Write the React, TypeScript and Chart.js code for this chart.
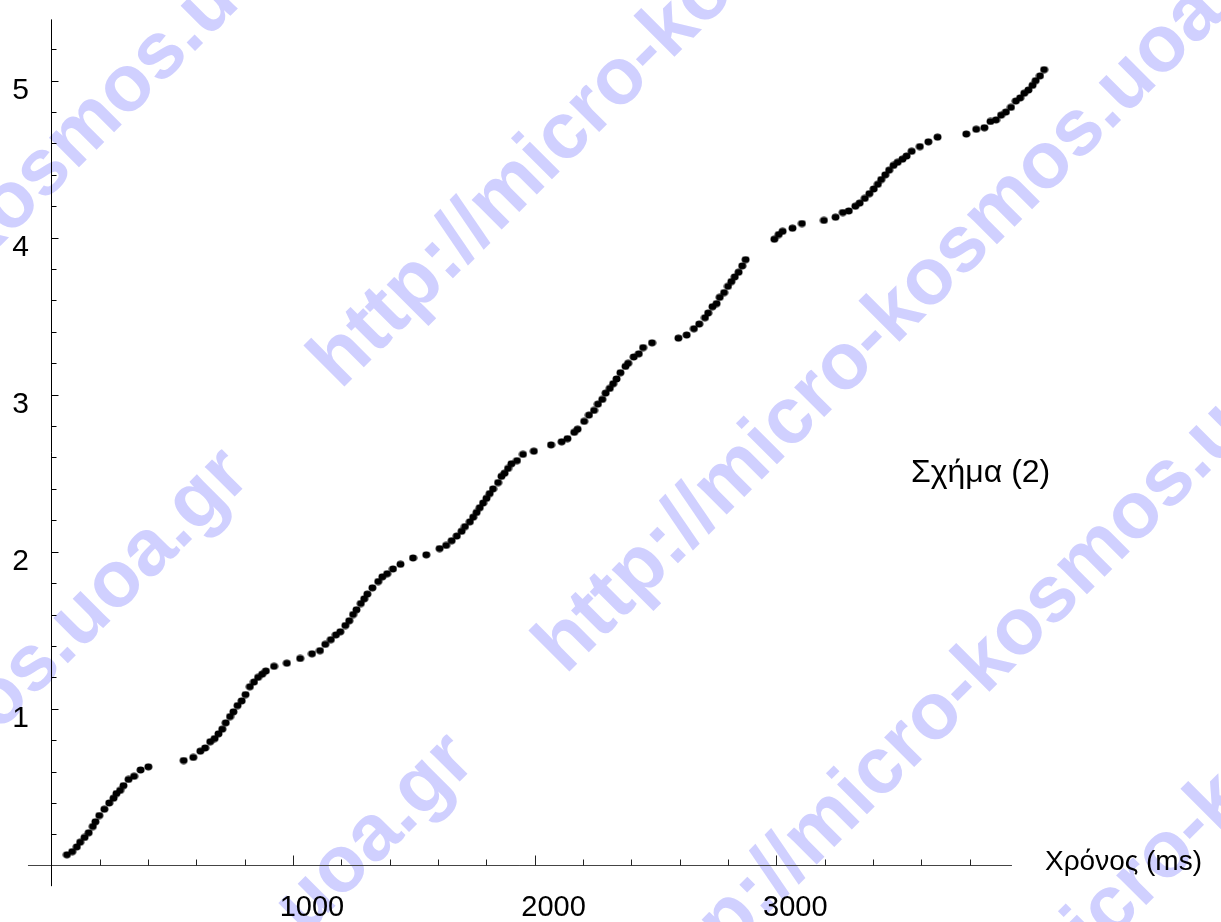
import { useEffect, useRef } from "react";
import { Chart, registerables } from "chart.js";

Chart.register(...registerables);

// ---- data ----
const timeMs = [
  65, 87, 106, 120, 138, 155, 172, 183, 199, 220, 240, 258, 270, 285, 299, 320, 343, 370, 402,
  548, 588, 617, 637, 658, 676, 692, 708, 722, 740, 754, 771, 788, 804, 822, 839, 856, 873, 888,
  922, 975, 1030, 1079, 1112, 1134, 1157, 1178, 1196, 1217, 1233, 1249, 1263, 1281, 1295, 1308,
  1329, 1353, 1370, 1390, 1414, 1445, 1497, 1552, 1607, 1634, 1657, 1678, 1698, 1712, 1732, 1746,
  1760, 1773, 1787, 1801, 1814, 1828, 1849, 1863, 1876, 1890, 1904, 1927, 1952, 1997, 2068, 2112,
  2136, 2164, 2178, 2205, 2225, 2246, 2262, 2280, 2294, 2311, 2325, 2339, 2355, 2376, 2387, 2410,
  2431, 2449, 2486, 2595, 2629, 2659, 2681, 2705, 2718, 2736, 2753, 2766, 2784, 2800, 2814, 2828,
  2844, 2859, 2873, 2992, 3010, 3026, 3067, 3106, 3197, 3245, 3275, 3300, 3327, 3345, 3366, 3385,
  3403, 3420, 3434, 3451, 3467, 3485, 3502, 3522, 3539, 3560, 3594, 3629, 3667, 3786, 3827, 3861,
  3886, 3909, 3930, 3950, 3971, 3991, 4009, 4026, 4043, 4060, 4073, 4091, 4108,
];
const values = [
  0.07, 0.09, 0.12, 0.15, 0.18, 0.21, 0.25, 0.28, 0.32, 0.36, 0.4, 0.43, 0.46, 0.48, 0.51, 0.55, 0.57, 0.61, 0.63,
  0.67, 0.69, 0.73, 0.75, 0.79, 0.81, 0.84, 0.87, 0.91, 0.95, 0.98, 1.02, 1.05, 1.09, 1.14, 1.17, 1.2, 1.22, 1.24,
  1.27, 1.29, 1.32, 1.35, 1.37, 1.41, 1.44, 1.47, 1.49, 1.53, 1.56, 1.6, 1.63, 1.67, 1.7, 1.73,
  1.77, 1.81, 1.84, 1.86, 1.89, 1.92, 1.96, 1.98, 2.02, 2.04, 2.07, 2.1, 2.13, 2.16, 2.19, 2.22,
  2.25, 2.28, 2.31, 2.34, 2.37, 2.4, 2.44, 2.48, 2.5, 2.53, 2.56, 2.58, 2.62, 2.64, 2.68, 2.7,
  2.72, 2.76, 2.78, 2.83, 2.87, 2.9, 2.94, 2.97, 3.01, 3.04, 3.07, 3.1, 3.14, 3.18, 3.2, 3.24,
  3.26, 3.3, 3.33, 3.36, 3.38, 3.42, 3.45, 3.49, 3.52, 3.56, 3.58, 3.62, 3.65, 3.69, 3.72, 3.75,
  3.78, 3.82, 3.86, 3.99, 4.02, 4.04, 4.06, 4.09, 4.11, 4.13, 4.16, 4.17, 4.2, 4.22, 4.25, 4.28,
  4.31, 4.34, 4.37, 4.4, 4.43, 4.46, 4.48, 4.5, 4.52, 4.55, 4.58, 4.61, 4.64, 4.66, 4.69, 4.7,
  4.74, 4.75, 4.78, 4.8, 4.83, 4.87, 4.89, 4.92, 4.94, 4.97, 5.0, 5.03, 5.07,
];

const xMinorTicks = [200, 400, 600, 800, 1200, 1400, 1600, 1800, 2200, 2400, 2600, 2800, 3200, 3400, 3600, 3800];
const xMajorTicks = [1000, 2000, 3000];
const xTickLabels = ["1000", "2000", "3000"];
const yMinorTicks = [0.2, 0.4, 0.6, 0.8, 1.2, 1.4, 1.6, 1.8, 2.2, 2.4, 2.6, 2.8, 3.2, 3.4, 3.6, 3.8, 4.2, 4.4, 4.6, 4.8, 5.2];
const yMajorTicks = [1, 2, 3, 4, 5];
const yTickLabels = ["1", "2", "3", "4", "5"];
const xAxisTitle = "Χρόνος (ms)";
const figureNote = "Σχήμα (2)";
const noteAt = { x: 3557, y: 2.5 };
const watermarkText = "http://micro-kosmos.uoa.gr";

// axis extents (data units)
const X_MIN = -195.2;
const X_MAX = 4823.3;
const Y_MIN = -0.3327;
const Y_MAX = 5.488;
const X_AXIS_FROM = -96;
const X_AXIS_TO = 3975;
const Y_AXIS_FROM = -0.13;
const Y_AXIS_TO = 5.39;

const FONT = '"Liberation Sans", Arial, Helvetica, sans-serif';

function makeDot(): HTMLCanvasElement {
  const c = document.createElement("canvas");
  c.width = 9;
  c.height = 8;
  const g = c.getContext("2d")!;
  g.fillStyle = "#000";
  g.beginPath();
  g.ellipse(4.5, 4, 4.0, 3.4, 0, 0, Math.PI * 2);
  g.fill();
  return c;
}

const watermarkPlugin = {
  id: "watermark",
  beforeDatasetsDraw(chart: any) {
    const ctx = chart.ctx as CanvasRenderingContext2D;
    const starts = [
      [-368, 583],
      [325, 375],
      [550, 660],
      [640, 1010],
      [872, 1148],
    ];
    const period = 1160;
    ctx.save();
    ctx.fillStyle = "rgb(208,208,255)";
    ctx.font = `bold 80px ${FONT}`;
    ctx.textBaseline = "middle";
    ctx.textAlign = "left";
    const d = Math.SQRT1_2;
    for (const [sx, sy] of starts) {
      for (let k = -2; k <= 2; k++) {
        const px = sx + k * period * d;
        const py = sy - k * period * d;
        ctx.save();
        ctx.translate(px, py);
        ctx.rotate(-Math.PI / 4);
        ctx.fillText(watermarkText, 0, 0);
        ctx.restore();
      }
    }
    ctx.restore();
  },
};

const axesPlugin = {
  id: "mathAxes",
  beforeDatasetsDraw(chart: any) {
    const ctx = chart.ctx as CanvasRenderingContext2D;
    const xs = chart.scales.x;
    const ys = chart.scales.y;
    const y0 = Math.round(ys.getPixelForValue(0)) - 0.5;
    const x0 = Math.round(xs.getPixelForValue(0)) + 0.5;
    ctx.save();
    ctx.lineWidth = 1;
    // x axis
    ctx.strokeStyle = "#444";
    ctx.beginPath();
    ctx.moveTo(xs.getPixelForValue(X_AXIS_FROM), y0);
    ctx.lineTo(xs.getPixelForValue(X_AXIS_TO), y0);
    ctx.stroke();
    ctx.strokeStyle = "#222";
    ctx.beginPath();
    for (const v of xMinorTicks) {
      const p = Math.round(xs.getPixelForValue(v)) + 0.5;
      ctx.moveTo(p, y0);
      ctx.lineTo(p, y0 - 6);
    }
    for (const v of xMajorTicks) {
      const p = Math.round(xs.getPixelForValue(v)) + 0.5;
      ctx.moveTo(p, y0);
      ctx.lineTo(p, y0 - 10);
    }
    ctx.stroke();
    // y axis
    ctx.strokeStyle = "#000";
    ctx.beginPath();
    ctx.moveTo(x0, ys.getPixelForValue(Y_AXIS_FROM));
    ctx.lineTo(x0, ys.getPixelForValue(Y_AXIS_TO));
    for (const v of yMinorTicks) {
      const p = Math.round(ys.getPixelForValue(v)) + 0.5;
      ctx.moveTo(x0, p);
      ctx.lineTo(x0 + 5, p);
    }
    for (const v of yMajorTicks) {
      const p = Math.round(ys.getPixelForValue(v)) + 0.5;
      ctx.moveTo(x0, p);
      ctx.lineTo(x0 + 7, p);
    }
    ctx.stroke();

    // labels
    ctx.fillStyle = "#000";
    ctx.font = `29px ${FONT}`;
    ctx.textAlign = "center";
    ctx.textBaseline = "middle";
    xMajorTicks.forEach((v, i) => {
      ctx.fillText(xTickLabels[i], xs.getPixelForValue(v) + 19, y0 + 42);
    });
    ctx.font = `30px ${FONT}`;
    yMajorTicks.forEach((v, i) => {
      ctx.fillText(yTickLabels[i], x0 - 31, ys.getPixelForValue(v) + 10);
    });
    ctx.font = `28px ${FONT}`;
    ctx.textAlign = "left";
    ctx.fillText(xAxisTitle, 1045, y0 - 3);
    ctx.font = `32px ${FONT}`;
    ctx.fillText(figureNote, xs.getPixelForValue(noteAt.x), ys.getPixelForValue(noteAt.y));
    ctx.restore();
  },
};

export default function App() {
  const ref = useRef<HTMLCanvasElement | null>(null);
  useEffect(() => {
    if (!ref.current) return;
    const dot = makeDot();
    const chart = new Chart(ref.current, {
      type: "scatter",
      data: {
        datasets: [
          {
            data: timeMs.map((t, i) => ({ x: t, y: values[i] })),
            pointStyle: dot as any,
            pointRadius: 4,
            pointBackgroundColor: "#000",
            pointBorderWidth: 0,
            showLine: false,
          },
        ],
      },
      options: {
        animation: false,
        responsive: false,
        maintainAspectRatio: false,
        layout: { padding: 0 },
        events: [],
        plugins: { legend: { display: false }, tooltip: { enabled: false } },
        scales: {
          x: { type: "linear", min: X_MIN, max: X_MAX, display: false },
          y: { type: "linear", min: Y_MIN, max: Y_MAX, display: false },
        },
      },
      plugins: [watermarkPlugin, axesPlugin],
    });
    return () => chart.destroy();
  }, []);
  return (
    <div style={{ position: "fixed", left: 0, top: 0, width: 1221, height: 922, background: "#fff" }}>
      <canvas ref={ref} width={1221} height={922} style={{ display: "block" }} />
    </div>
  );
}
